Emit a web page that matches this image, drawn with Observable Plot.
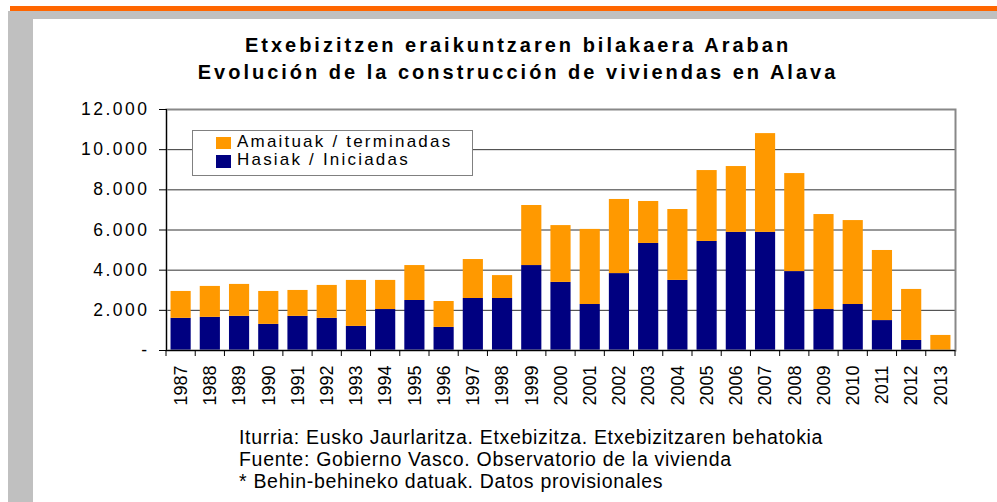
<!DOCTYPE html>
<html><head><meta charset="utf-8">
<script src="https://cdn.jsdelivr.net/npm/d3@7"></script>
<script src="https://cdn.jsdelivr.net/npm/@observablehq/plot@0.6"></script>
<style>
body{margin:0;background:#fff;font-family:"Liberation Sans",Arial,sans-serif;color:#000;}
#wrap{position:relative;width:997px;height:502px;overflow:hidden;}
.abs{position:absolute;}
#title{left:40px;width:956px;top:32px;text-align:center;font-weight:bold;font-size:20px;line-height:27px;letter-spacing:3px;white-space:nowrap;}
#foot{left:239px;top:426px;font-size:19.5px;line-height:22px;letter-spacing:0.7px;white-space:nowrap;}
.lg{font-size:17px;line-height:18px;letter-spacing:2.2px;white-space:nowrap;}
</style></head><body>
<div id="wrap">
  <div class="abs" style="left:8px;top:11px;width:989px;height:491px;background:#c0c0c0"></div>
  <div class="abs" style="left:10px;top:6px;width:987px;height:5px;background:#ff6600"></div>
  <div class="abs" style="left:33px;top:19px;width:964px;height:483px;background:#fff"></div>
  <div id="title" class="abs">Etxebizitzen eraikuntzaren bilakaera Araban<br>Evolución de la construcción de viviendas en Alava</div>
  <div id="chart" class="abs" style="left:33px;top:90px"></div>
  <div id="legend"></div>
  <div id="foot" class="abs">Iturria: Eusko Jaurlaritza. Etxebizitza. Etxebizitzaren behatokia<br>Fuente: Gobierno Vasco. Observatorio de la vivienda<br>* Behin-behineko datuak. Datos provisionales</div>
</div>
<script>
const years = [1987,1988,1989,1990,1991,1992,1993,1994,1995,1996,1997,1998,1999,2000,2001,2002,2003,2004,2005,2006,2007,2008,2009,2010,2011,2012,2013];
const iniciadas = [1600,1650,1700,1300,1700,1600,1200,2040,2490,1150,2590,2590,4230,3390,2290,3830,5330,3490,5430,5880,5880,3930,2040,2290,1490,500,0];
const terminadas = [1340,1540,1590,1640,1290,1640,2290,1450,1740,1290,1940,1140,2990,2830,3740,3690,2090,3530,3530,3280,4920,4880,4730,4180,3490,2540,750];
const yTicks = [0,2000,4000,6000,8000,10000,12000];
const seriesNames = ["Hasiak / Iniciadas","Amaituak / terminadas"];
const seriesColors = ["#000080","#FF9900"];
const legendOrder = ["Amaituak / terminadas","Hasiak / Iniciadas"];

const table = [
  ...years.map((y,i)=>({year:y, series:seriesNames[0], value:iniciadas[i]})),
  ...years.map((y,i)=>({year:y, series:seriesNames[1], value:terminadas[i]}))
];

const plot = Plot.plot({
  width: 964, height: 330,
  marginLeft: 133, marginRight: 42, marginTop: 19, marginBottom: 70,
  style: {background:"transparent", fontFamily:"Liberation Sans, Arial, sans-serif", color:"#000"},
  x: {type:"band", domain: years, paddingInner:0.31, paddingOuter:0.155, round:false, label:null},
  y: {domain:[0,12000], label:null},
  color: {domain: seriesNames, range: seriesColors},
  marks: [
    Plot.ruleY(yTicks.filter(d=>d>0 && d<12000), {stroke:"#333", strokeWidth:1}),
    Plot.barY(table, {x:"year", y:"value", fill:"series", order: seriesNames, insetLeft:0, insetRight:0}),
    Plot.frame({stroke:"#888", strokeWidth:2}),
    Plot.axisY({ticks:yTicks, tickSize:7, tickPadding:10, fontSize:17.5,
      tickFormat: d => d===0 ? "-" : d3.format(",")(d).replace(/,/g,".")}),
    Plot.axisX({tickSize:0, tickRotate:-90, tickPadding:15, fontSize:18, tickFormat: d => String(d)}),
    Plot.ruleY([0], {stroke:"#000", strokeWidth:1})
  ]
});
document.getElementById("chart").appendChild(plot);

const svg = d3.select(plot);
svg.selectAll('g[aria-label="y-axis tick label"] text').attr("letter-spacing","2.5");
const xs = plot.scale("x"), ys = plot.scale("y");
const step = xs.step || xs.bandwidth/(1-xs.paddingInner);
const y0 = ys.apply(0), yTop = ys.apply(12000);
const g = svg.append("g").attr("stroke","#000").attr("stroke-width",1);
years.forEach((yr)=>{
  const bx = xs.apply(yr) - xs.paddingInner*step/2;
  g.append("line").attr("x1",bx).attr("x2",bx).attr("y1",y0).attr("y2",y0+6);
});
const lastX = xs.apply(years[years.length-1]) + xs.bandwidth + xs.paddingInner*step/2;
g.append("line").attr("x1",lastX).attr("x2",lastX).attr("y1",y0).attr("y2",y0+6);
const leftX = xs.apply(years[0]) - xs.paddingInner*step/2;
g.append("line").attr("x1",leftX+0.5).attr("x2",leftX+0.5).attr("y1",yTop).attr("y2",y0);

// legend
const lg = document.getElementById("legend");
lg.innerHTML = `<div class="abs" style="left:192px;top:130px;width:281px;height:46px;box-sizing:border-box;border:1px solid #808080;background:#fff"></div>`;
const colorOf = s => seriesColors[seriesNames.indexOf(s)];
legendOrder.forEach((s,i)=>{
  const top = [137,155][i];
  lg.innerHTML += `<div class="abs" style="left:216px;top:${top}px;width:15px;height:${i?13:12}px;background:${colorOf(s)}"></div>`;
  lg.innerHTML += `<div class="abs lg" style="left:237px;top:${[132.5,151][i]}px">${s}</div>`;
});
</script>
</body></html>
